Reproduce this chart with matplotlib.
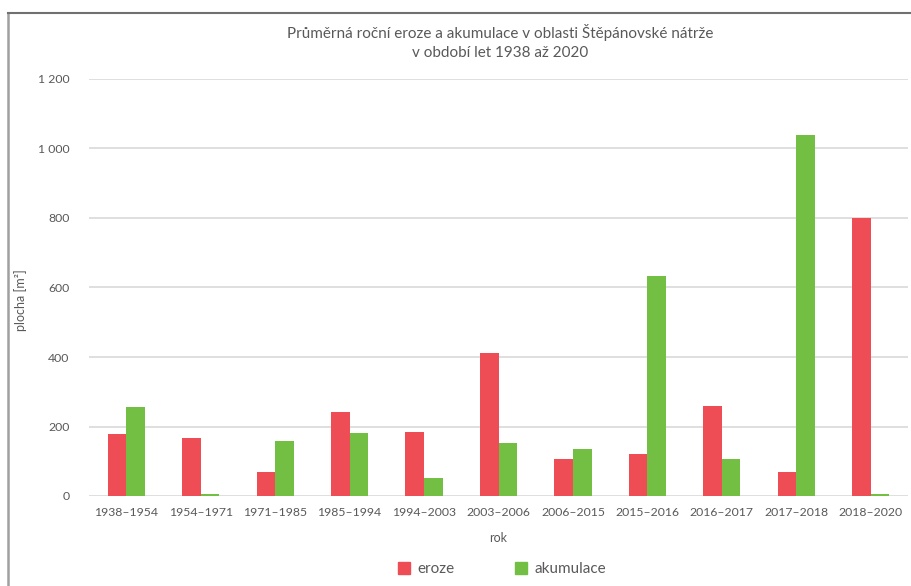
import matplotlib
matplotlib.use("Agg")
import matplotlib.pyplot as plt
import numpy as np
from matplotlib.lines import Line2D
from matplotlib.patches import Patch

periods = ["1938–1954", "1954–1971", "1971–1985", "1985–1994", "1994–2003",
           "2003–2006", "2006–2015", "2015–2016", "2016–2017", "2017–2018", "2018–2020"]
eroze = [178, 167, 69, 243, 184, 412, 106, 121, 259, 69, 800]
akumulace = [256, 5, 158, 181, 53, 153, 134, 633, 106, 1040, 6]
yticks = [0, 200, 400, 600, 800, 1000, 1200]
ytick_labels = ["0", "200", "400", "600", "800", "1 000", "1 200"]

red = "#ef4d55"
green = "#72bf44"
text_c = "#595959"
grid_c = "#d9d9d9"

plt.rcParams["font.family"] = ["Lato", "DejaVu Sans"]

W, H = 912, 586
fig = plt.figure(figsize=(W / 100, H / 100), dpi=100)
ax = fig.add_axes([89 / W, (H - 496) / H, (908 - 89) / W, 417 / H])

x = np.arange(len(periods))
bw = 0.25
ax.bar(x - bw / 2, eroze, bw, color=red, zorder=3)
ax.bar(x + bw / 2, akumulace, bw, color=green, zorder=3)

ax.set_xlim(-0.5, len(periods) - 0.5)
ax.set_ylim(0, 1200)
ax.set_yticks(yticks)
ax.set_yticklabels(ytick_labels)
ax.set_xticks(x)
ax.set_xticklabels(periods)
ax.tick_params(axis="both", length=0, colors=text_c, labelsize=8.8)
ax.tick_params(axis="y", pad=14)
ax.tick_params(axis="x", pad=8)
for s in ax.spines.values():
    s.set_visible(False)
ax.grid(axis="y", color=grid_c, linewidth=1.2, zorder=0)
ax.set_axisbelow(True)

ax.set_xlabel("rok", color=text_c, fontsize=9, labelpad=10)
ax.set_ylabel("plocha [m²]", color=text_c, fontsize=9)
ax.yaxis.set_label_coords((27 - 89) / (908 - 89), (496 - 300) / 417)

fig.text(500 / W, 1 - 42 / H,
         "Průměrná roční eroze a akumulace v oblasti Štěpánovské nátrže\nv období let 1938 až 2020",
         ha="center", va="center", color=text_c, fontsize=11, linespacing=1.45)

handles = [Patch(color=red, label="eroze"), Patch(color=green, label="akumulace")]
fig.legend(handles=handles, loc="center", bbox_to_anchor=(502 / W, 1 - 569 / H),
           ncol=2, frameon=False, fontsize=11, labelcolor=text_c,
           handlelength=0.8, handleheight=0.8, columnspacing=3.9, handletextpad=0.5)

# chart frame
fig.add_artist(Line2D([8.5 / W, 8.5 / W], [-0.01, 1 - 12.5 / H], transform=fig.transFigure,
                      color="#a0a0a0", linewidth=1.8))
fig.add_artist(Line2D([8.5 / W, 1.01], [1 - 12.5 / H, 1 - 12.5 / H], transform=fig.transFigure,
                      color="#707070", linewidth=1.5))

fig.savefig("out.png", dpi=100)
